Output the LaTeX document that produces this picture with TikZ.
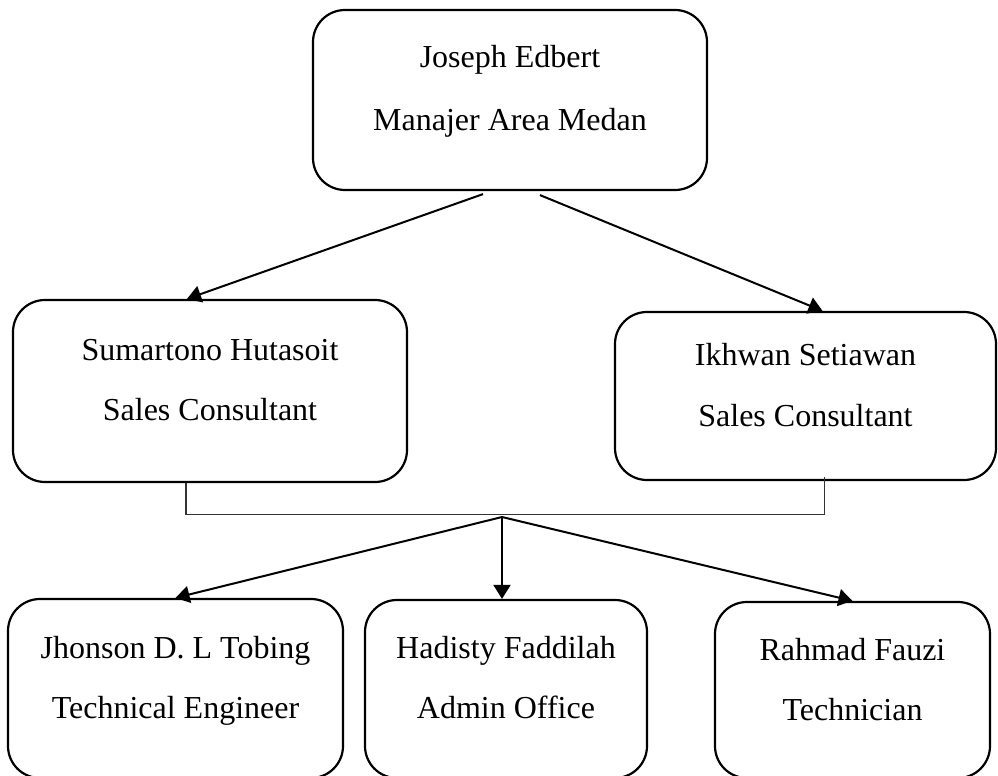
\documentclass[tikz,border=0pt]{standalone}
\usepackage{fontspec}
\setmainfont{Liberation Serif}
\usetikzlibrary{arrows.meta,calc}
\tikzset{
  post/.style={draw, rounded corners=16pt, line width=1.1pt, inner sep=0pt},
  who/.style={anchor=base, inner sep=0pt, font=\fontsize{16}{19}\selectfont},
  arr/.style={-{Triangle[length=7pt,width=8.5pt]}, line width=1pt},
  brk/.style={line width=0.6pt, color=black!80},
}

\begin{document}
\begin{tikzpicture}[x=0.5pt, y=-0.5pt]
  \useasboundingbox (0,0) rectangle (998,776);
  % boxes: name/cx/cy/width/height/baseline1/baseline2/line1/line2
  \foreach \nm/\cx/\cy/\w/\h/\ya/\yb/\ta/\tb in {
      mgr/510/100/197/90/68/130/{Joseph Edbert}/{Manajer Area Medan},
      sc1/210/391/197/91/360/420/{Sumartono Hutasoit}/{Sales Consultant},
      sc2/805.5/396/190.5/84/365/426/{Ikhwan Setiawan}/{Sales Consultant},
      eng/175.5/688.5/167.5/89.5/658/718/{Jhonson D. L Tobing}/{Technical Engineer},
      adm/506/689/141/89/658/718/{Hadisty Faddilah}/{Admin Office},
      tec/852.5/690/137.5/88/660/720/{Rahmad Fauzi}/{Technician}}
    { \node[post, minimum width=\w pt, minimum height=\h pt] (\nm) at (\cx,\cy) {};
      \node[who] (\nm-a) at (\cx,\ya) {\ta};
      \node[who] (\nm-b) at (\cx,\yb) {\tb}; }
  % manager to sales
  \coordinate (mgrL) at ($(mgr.south)+(-27,3)$);
  \coordinate (mgrR) at ($(mgr.south)+(30,4)$);
  \draw[arr] (mgrL) -- ($(sc1.north)+(-23,0)$);
  \draw[arr] (mgrR) -- ($(sc2.north)+(17,0)$);
  % sales bracket
  \coordinate (hub) at (502,517);
  \draw[brk] ($(sc1.south)+(-24,0)$) -- ++(0,31) -| ($(sc2.south)+(19,-4)$);
  % staff
  \draw[arr] (hub) -- (eng.north);
  \draw[arr] (hub) -- (hub |- adm.north);
  \draw[arr] (hub) -- (tec.north);
\end{tikzpicture}
\end{document}
